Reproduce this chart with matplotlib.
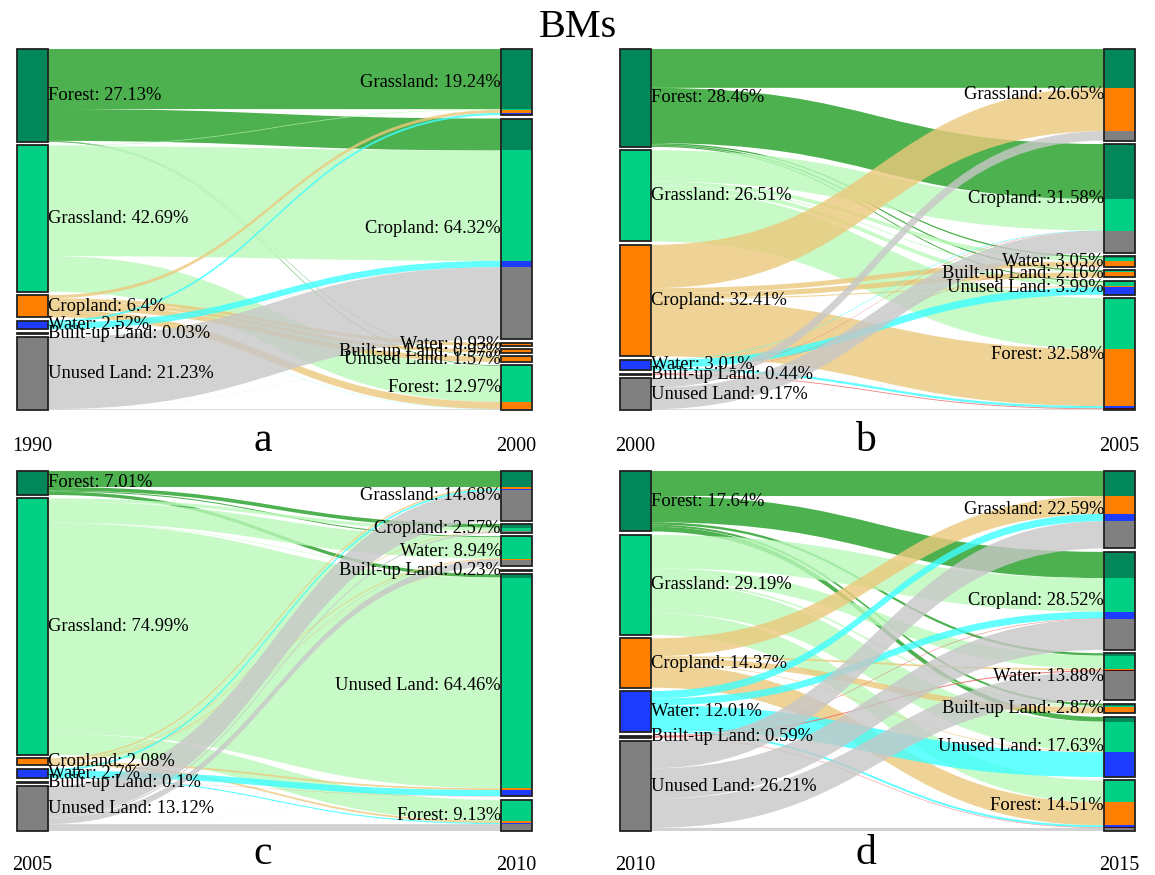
import numpy as np
import matplotlib
matplotlib.use("Agg")
import matplotlib.pyplot as plt
import matplotlib.patches as patches
from matplotlib.path import Path

plt.rcParams['font.family'] = ['Liberation Serif', 'DejaVu Serif']

# land types, left (start year) and right (end year) order
left_names = ['Forest', 'Grassland', 'Cropland', 'Water', 'Built-up Land', 'Unused Land']
right_names = ['Grassland', 'Cropland', 'Water', 'Built-up Land', 'Unused Land', 'Forest']

node_colors = ['#00875A', '#00D084', '#FF8000', '#1E3CFF', '#4A0808', '#808080']
flow_colors = ['#229E24', '#BAF9BA', '#ECC97C', '#3DFFFF', '#EC6060', '#C7C7C7']

panel_letters = ['a', 'b', 'c', 'd']
start_years = ['1990', '2000', '2005', '2010']
end_years = ['2000', '2005', '2010', '2015']

left_pct_a = ['27.13', '42.69', '6.4', '2.52', '0.03', '21.23']
right_pct_a = ['19.24', '64.32', '0.93', '0.97', '1.57', '12.97']
left_pct_b = ['28.46', '26.51', '32.41', '3.01', '0.44', '9.17']
right_pct_b = ['26.65', '31.58', '3.05', '2.16', '3.99', '32.58']
left_pct_c = ['7.01', '74.99', '2.08', '2.7', '0.1', '13.12']
right_pct_c = ['14.68', '2.57', '8.94', '0.23', '64.46', '9.13']
left_pct_d = ['17.64', '29.19', '14.37', '12.01', '0.59', '26.21']
right_pct_d = ['22.59', '28.52', '13.88', '2.87', '17.63', '14.51']

# transition matrices: rows = left_names, cols = right_names (percent)
flows_a = [
    [17.5, 9.3, 0, 0, 0.13, 0.2],
    [0.2, 32.09, 0, 0, 0, 10.4],
    [0.9, 0, 0.93, 0.97, 1.5, 2.1],
    [0.62, 1.85, 0, 0, 0, 0.05],
    [0, 0.03, 0, 0, 0, 0],
    [0, 20.98, 0, 0, 0.03, 0.22],
]
flows_b = [
    [11.3, 16.06, 0.4, 0.4, 0.3, 0],
    [0, 9.1, 1.1, 0.25, 1.2, 14.86],
    [12.6, 0, 1.45, 1.51, 0.3, 16.55],
    [0, 0.15, 0, 0, 2.19, 0.67],
    [0, 0.1, 0.1, 0, 0, 0.24],
    [2.74, 6.2, 0, 0, 0, 0.23],
]
flows_c = [
    [4.68, 1.07, 0.3, 0, 0.96, 0],
    [0, 0.9, 6.2, 0.13, 61.56, 6.2],
    [0.45, 0.2, 0.3, 0.1, 0.5, 0.53],
    [0.55, 0, 0, 0, 1.8, 0.35],
    [0, 0, 0.05, 0, 0.05, 0],
    [8.8, 0.4, 1.9, 0, 0.02, 2.0],
]
flows_d = [
    [7.3, 7.64, 0.7, 0.6, 1.4, 0],
    [0, 9.79, 3.8, 0.5, 8.7, 6.4],
    [5.2, 0, 0.5, 1.77, 0.2, 6.7],
    [2.15, 2.03, 0, 0, 7.23, 0.6],
    [0, 0.15, 0.3, 0, 0, 0.14],
    [7.94, 8.96, 8.4, 0, 0, 0.91],
]

panels = [
    (flows_a, left_pct_a, right_pct_a, (17, 501, 49, 410)),
    (flows_b, left_pct_b, right_pct_b, (620, 1104, 49, 410)),
    (flows_c, left_pct_c, right_pct_c, (17, 501, 471, 831)),
    (flows_d, left_pct_d, right_pct_d, (620, 1104, 471, 831)),
]
# baselines of year labels / panel letters per row
year_base = [451, 451, 870, 870]
letter_base = [451, 451, 864, 864]

node_w = 31
gap = 1.0
min_h = 0.35

fig = plt.figure(figsize=(11.55, 8.75), dpi=100)
ax = fig.add_axes([0, 0, 1, 1])
ax.set_xlim(0, 1155)
ax.set_ylim(875, 0)
ax.axis('off')


def layout(sizes, top, bottom):
    eff = [max(s, min_h) for s in sizes]
    scale = (bottom - top) / (sum(eff) + gap * (len(eff) - 1))
    pos = []
    y = top
    for e in eff:
        pos.append(y)
        y += (e + gap) * scale
    return pos, scale, eff


def ribbon(x0, y0a, y0b, x1, y1a, y1b, color):
    xm = (x0 + x1) / 2
    verts = [(x0, y0a), (xm, y0a), (xm, y1a), (x1, y1a),
             (x1, y1b), (xm, y1b), (xm, y0b), (x0, y0b), (x0, y0a)]
    codes = [Path.MOVETO, Path.CURVE4, Path.CURVE4, Path.CURVE4,
             Path.LINETO, Path.CURVE4, Path.CURVE4, Path.CURVE4, Path.CLOSEPOLY]
    ax.add_patch(patches.PathPatch(Path(verts, codes), facecolor=color,
                                   edgecolor='none', alpha=0.8, zorder=1))


for k, (flows, lpct, rpct, (xl, xr, top, bottom)) in enumerate(panels):
    m = np.array(flows, dtype=float)
    lpos, lscale, leff = layout(m.sum(axis=1), top, bottom)
    rpos, rscale, reff = layout(m.sum(axis=0), top, bottom)

    # right end of each flow: stacked in source order inside the target node
    rcursor = list(rpos)
    rstart = {}
    rseg = [[] for _ in range(6)]
    for j in range(6):
        for i in range(6):
            v = m[i, j]
            if v <= 0:
                continue
            rstart[(i, j)] = rcursor[j]
            rseg[j].append((i, rcursor[j], rcursor[j] + v * rscale))
            rcursor[j] += v * rscale

    # left end: stacked in target order inside the source node
    lcursor = list(lpos)
    for i in range(6):
        for j in range(6):
            v = m[i, j]
            if v <= 0:
                continue
            y0a = lcursor[i]
            lcursor[i] += v * lscale
            y1a = rstart[(i, j)]
            ribbon(xl + node_w, y0a, y0a + v * lscale, xr, y1a, y1a + v * rscale,
                   flow_colors[i])

    # left nodes
    for i in range(6):
        y = lpos[i]
        h = leff[i] * lscale
        ax.add_patch(patches.Rectangle((xl, y), node_w, h, facecolor=node_colors[i],
                                       edgecolor='#222222', linewidth=1.3, zorder=3))
        ax.text(xl + node_w, y + h / 2, f'{left_names[i]}: {lpct[i]}%',
                ha='left', va='center', fontsize=13.3, zorder=5)

    # right nodes, coloured by where the area came from
    for j in range(6):
        y = rpos[j]
        h = reff[j] * rscale
        for (i, a, b) in rseg[j]:
            ax.add_patch(patches.Rectangle((xr, a), node_w, b - a,
                                           facecolor=node_colors[i], edgecolor='none',
                                           zorder=3))
        ax.add_patch(patches.Rectangle((xr, y), node_w, h, fill=False,
                                       edgecolor='#222222', linewidth=1.3, zorder=4))
        ax.text(xr, y + h / 2, f'{right_names[j]}: {rpct[j]}%',
                ha='right', va='center', fontsize=13.3, zorder=5)

    ax.text(xl + node_w / 2, year_base[k], start_years[k], ha='center',
            va='baseline', fontsize=14.5)
    ax.text(xr + node_w / 2, year_base[k], end_years[k], ha='center',
            va='baseline', fontsize=14.5)
    ax.text((xl + xr + node_w) / 2 - 12, letter_base[k], panel_letters[k],
            ha='center', va='baseline', fontsize=30)

ax.text(578, 37, 'BMs', ha='center', va='baseline', fontsize=29)

fig.savefig('out.png', dpi=100)
